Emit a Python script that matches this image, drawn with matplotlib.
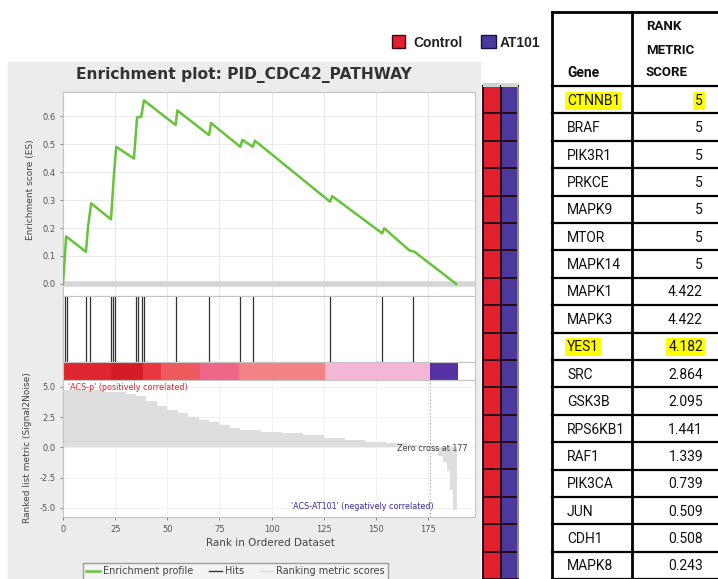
import matplotlib
matplotlib.use("Agg")
import matplotlib.pyplot as plt
from matplotlib.patches import Rectangle
from matplotlib.lines import Line2D
from matplotlib.colors import ListedColormap
import numpy as np

# running enrichment score, vertices
es_rank = [0, 1.5, 11, 12, 13.5, 23, 24.5, 25.5, 34, 35.5, 37.5, 38.8, 54, 54.8, 70, 71,
           85, 86, 91, 92, 128, 129, 153, 154, 166, 168.5, 188.5]
es_value = [0, 0.17, 0.115, 0.205, 0.288, 0.231, 0.40, 0.49, 0.448, 0.595, 0.598, 0.656,
            0.568, 0.62, 0.532, 0.575, 0.49, 0.515, 0.49, 0.512, 0.294, 0.314, 0.181, 0.199,
            0.12, 0.115, 0.0]

# positions of the gene set members in the ranked list
hits_rank = [1, 2, 11, 13, 23, 24, 25, 35, 36, 38, 39, 54, 70, 85, 91, 128, 153, 168]

# ranked list metric (step segments)
metric_start = [0, 20, 30, 35, 40, 45, 50, 55, 60, 65, 70, 75, 80, 85, 95, 105, 115, 125,
                135, 145, 155, 165, 172, 177, 180, 182, 184, 185.5, 187]
metric_value = [4.7, 4.6, 4.4, 4.2, 3.8, 3.4, 3.05, 2.8, 2.5, 2.25, 2.05, 1.85, 1.6, 1.4,
                1.25, 1.15, 1.0, 0.75, 0.62, 0.47, 0.33, 0.2, 0.08, -0.3, -0.7, -1.2, -2.0,
                -3.5, -5.2]
metric_end = 189
zero_cross = 176

# phenotype colour bar
cbar_edges = [0, 23, 38.5, 47, 65.5, 84.5, 125.5, 176, 189.5]
cbar_colors = ['#de2530', '#d41c28', '#e8383f', '#ef5a5e', '#f0668a', '#f28286',
               '#f5b6d6', '#5532a2']

# table
genes = ['CTNNB1', 'BRAF', 'PIK3R1', 'PRKCE', 'MAPK9', 'MTOR', 'MAPK14', 'MAPK1', 'MAPK3',
         'YES1', 'SRC', 'GSK3B', 'RPS6KB1', 'RAF1', 'PIK3CA', 'JUN', 'CDH1', 'MAPK8']
scores = [5, 5, 5, 5, 5, 5, 5, 4.422, 4.422, 4.182, 2.864, 2.095, 1.441, 1.339, 0.739,
          0.509, 0.508, 0.243]
highlighted = ['CTNNB1', 'YES1']

# heatmap (1 = Control colour, 0 = AT101 colour)
control_cells = [1, 1, 1, 1, 1, 1, 1, 1, 1, 1, 1, 1, 1, 1, 1, 1, 1, 1]
at101_cells = [0, 0, 0, 0, 0, 0, 0, 0, 0, 0, 0, 0, 0, 0, 0, 0, 0, 0]

W, H = 718, 579


def box(x0, y0, x1, y1):
    return [x0 / W, 1 - y1 / H, (x1 - x0) / W, (y1 - y0) / H]


fig = plt.figure(figsize=(W / 100, H / 100), dpi=100)
fig.add_artist(Rectangle((8 / W, 0), (480 - 8) / W, 1 - 62 / H, transform=fig.transFigure,
                         color='#ececec', zorder=-5))

XMAX = 197.5
xt = list(range(0, 176, 25))
spine_c = '#c4c4c4'
grid_c = '#e6e6e6'


def style(ax):
    for s in ax.spines.values():
        s.set_color(spine_c)
        s.set_linewidth(0.8)
    ax.set_xlim(0, XMAX)
    ax.tick_params(colors='#555555', labelsize=6, length=2, width=0.5)


fig.text(244 / W, 1 - 75 / H, 'Enrichment plot: PID_CDC42_PATHWAY', ha='center', va='center',
         fontsize=11.2, fontweight='bold', color='#333333')

# ES panel
ax_es = fig.add_axes(box(63, 92, 475, 296))
style(ax_es)
ax_es.set_ylim(-0.043, 0.686)
ax_es.axhline(0, color='#d6d6d6', lw=4, zorder=1)
ax_es.plot(es_rank, es_value, color='#66c43a', lw=1.8, zorder=3)
ax_es.set_xticks(xt)
ax_es.set_xticklabels([])
ax_es.tick_params(axis='x', length=0)
ax_es.set_yticks([0, 0.1, 0.2, 0.3, 0.4, 0.5, 0.6])
ax_es.set_yticklabels(['0.0', '0.1', '0.2', '0.3', '0.4', '0.5', '0.6'])
ax_es.grid(True, color=grid_c, lw=0.6)
ax_es.set_axisbelow(True)
fig.text(30 / W, 1 - 190 / H, 'Enrichment score (ES)', rotation=90, ha='center', va='center',
         fontsize=6.5, color='#444444')

# hits panel
ax_h = fig.add_axes(box(63, 296, 475, 362))
style(ax_h)
ax_h.set_ylim(0, 1)
ax_h.vlines(hits_rank, 0, 1, color='#333333', lw=0.9)
ax_h.set_xticks(xt)
ax_h.set_xticklabels([])
ax_h.set_yticks([])
ax_h.tick_params(axis='x', length=0)
ax_h.grid(True, axis='x', color=grid_c, lw=0.6)
ax_h.set_axisbelow(True)

# colour bar
ax_c = fig.add_axes(box(63, 362, 475, 380))
style(ax_c)
ax_c.set_ylim(0, 1)
for i, c in enumerate(cbar_colors):
    ax_c.axvspan(cbar_edges[i], cbar_edges[i + 1], color=c, lw=0)
ax_c.set_xticks([])
ax_c.set_yticks([])

# ranked list metric
ax_r = fig.add_axes(box(63, 380, 475, 517))
style(ax_r)
ax_r.set_ylim(-5.76, 5.56)
widths = np.diff(metric_start + [metric_end])
ax_r.bar(metric_start, metric_value, width=widths, align='edge', color='#dedede', lw=0,
         zorder=2)
ax_r.axvline(zero_cross, color='#aaaaaa', lw=0.8, ls=(0, (1, 2)), zorder=3)
ax_r.set_xticks(xt)
ax_r.set_yticks([-5, -2.5, 0, 2.5, 5])
ax_r.set_yticklabels(['-5.0', '-2.5', '0.0', '2.5', '5.0'])
ax_r.grid(True, color='#efefef', lw=0.6)
ax_r.set_axisbelow(True)
ax_r.text(2.4, 4.9, "'ACS-p' (positively correlated)", color='#e8202a', fontsize=5.8,
          va='center', ha='left', zorder=4)
ax_r.text(177.5, -4.9, "'ACS-AT101' (negatively correlated)", color='#3a2aa8', fontsize=5.8,
          va='center', ha='right', zorder=4)
ax_r.text(194, -0.1, 'Zero cross at 177', color='#444444', fontsize=5.8, va='center',
          ha='right', zorder=4)
fig.text(270 / W, 1 - 543 / H, 'Rank in Ordered Dataset', ha='center', va='center',
         fontsize=7.5, color='#444444')
fig.text(28 / W, 1 - 448 / H, 'Ranked list metric (Signal2Noise)', rotation=90, ha='center',
         va='center', fontsize=6.5, color='#444444')

handles = [Line2D([], [], color='#66c43a', lw=1.8), Line2D([], [], color='#333333', lw=1),
           Line2D([], [], color='#dddddd', lw=1)]
fig.legend(handles, ['Enrichment profile', 'Hits', 'Ranking metric scores'],
           loc='upper left', bbox_to_anchor=(78 / W, 1 - 558 / H), ncol=3, fontsize=7,
           frameon=True, fancybox=False, edgecolor='#888888', facecolor='#f6f6f6',
           borderpad=0.35, handlelength=1.4, handletextpad=0.3, columnspacing=1.6,
           labelcolor='#444444')

# heatmap strip
ax_hm = fig.add_axes(box(483, 86, 518, 579))
cells = np.array([control_cells, at101_cells]).T
ax_hm.pcolormesh(cells, cmap=ListedColormap(['#4b3a9c', '#e0202e']), vmin=0, vmax=1,
                 edgecolors='#2a0a1a', linewidth=1.4)
ax_hm.set_ylim(len(genes), 0)
ax_hm.set_xticks([])
ax_hm.set_yticks([])
for s in ax_hm.spines.values():
    s.set_color('#2a0a1a')
    s.set_linewidth(1.4)
ax_hm.spines['right'].set_color('#888888')

# overlay for table + group legend
ov = fig.add_axes([0, 0, 1, 1], zorder=5)
ov.set_xlim(0, W)
ov.set_ylim(H, 0)
ov.axis('off')
ov.add_patch(Rectangle((483, 83), 17, 4, color='#c5d6da', lw=0))
ov.add_patch(Rectangle((501, 83), 17, 4, color='#d6d8cc', lw=0))

ov.add_patch(Rectangle((392, 35), 13, 13, facecolor='#e0202e', edgecolor='#3a0a10', lw=1))
ov.text(413, 43, 'Control', fontsize=10, fontweight='bold', family='Liberation Sans',
        va='center', ha='left', color='#222222')
ov.add_patch(Rectangle((481, 35), 15, 13, facecolor='#4b3a9c', edgecolor='#1a1040', lw=1))
ov.text(500, 43, 'AT101', fontsize=10, fontweight='bold', family='Liberation Sans',
        va='center', ha='left', color='#222222')

tfont = 'Roboto'
top, head, row_h = 12, 86, 27.4
ov.plot([552, 552], [top, H], color='black', lw=2)
ov.plot([632, 632], [top, H], color='black', lw=2)
ov.plot([552, W], [top, top], color='black', lw=2)
for k in range(len(genes) + 1):
    y = head + k * row_h
    ov.plot([552, W], [y, y], color='black', lw=1.6)
ov.text(567, 73, 'Gene', family=tfont, fontsize=10, fontweight='bold', va='center',
        ha='left', color='#111111')
for i, t in enumerate(['RANK', 'METRIC', 'SCORE']):
    ov.text(646, 27 + 23 * i, t, family=tfont, fontsize=9.5, fontweight='bold',
            va='center', ha='left', color='#111111')
for i, (g, s) in enumerate(zip(genes, scores)):
    y = head + (i + 0.5) * row_h
    hl = dict(facecolor='#ffff00', edgecolor='none', pad=1.5) if g in highlighted else None
    ov.text(567, y + 1, g, family=tfont, fontsize=10, va='center', ha='left',
            color='#111111', bbox=hl)
    ov.text(703, y + 1, f'{s:g}', family=tfont, fontsize=10, va='center', ha='right',
            color='#111111', bbox=hl)

fig.savefig('out.png', dpi=100)
